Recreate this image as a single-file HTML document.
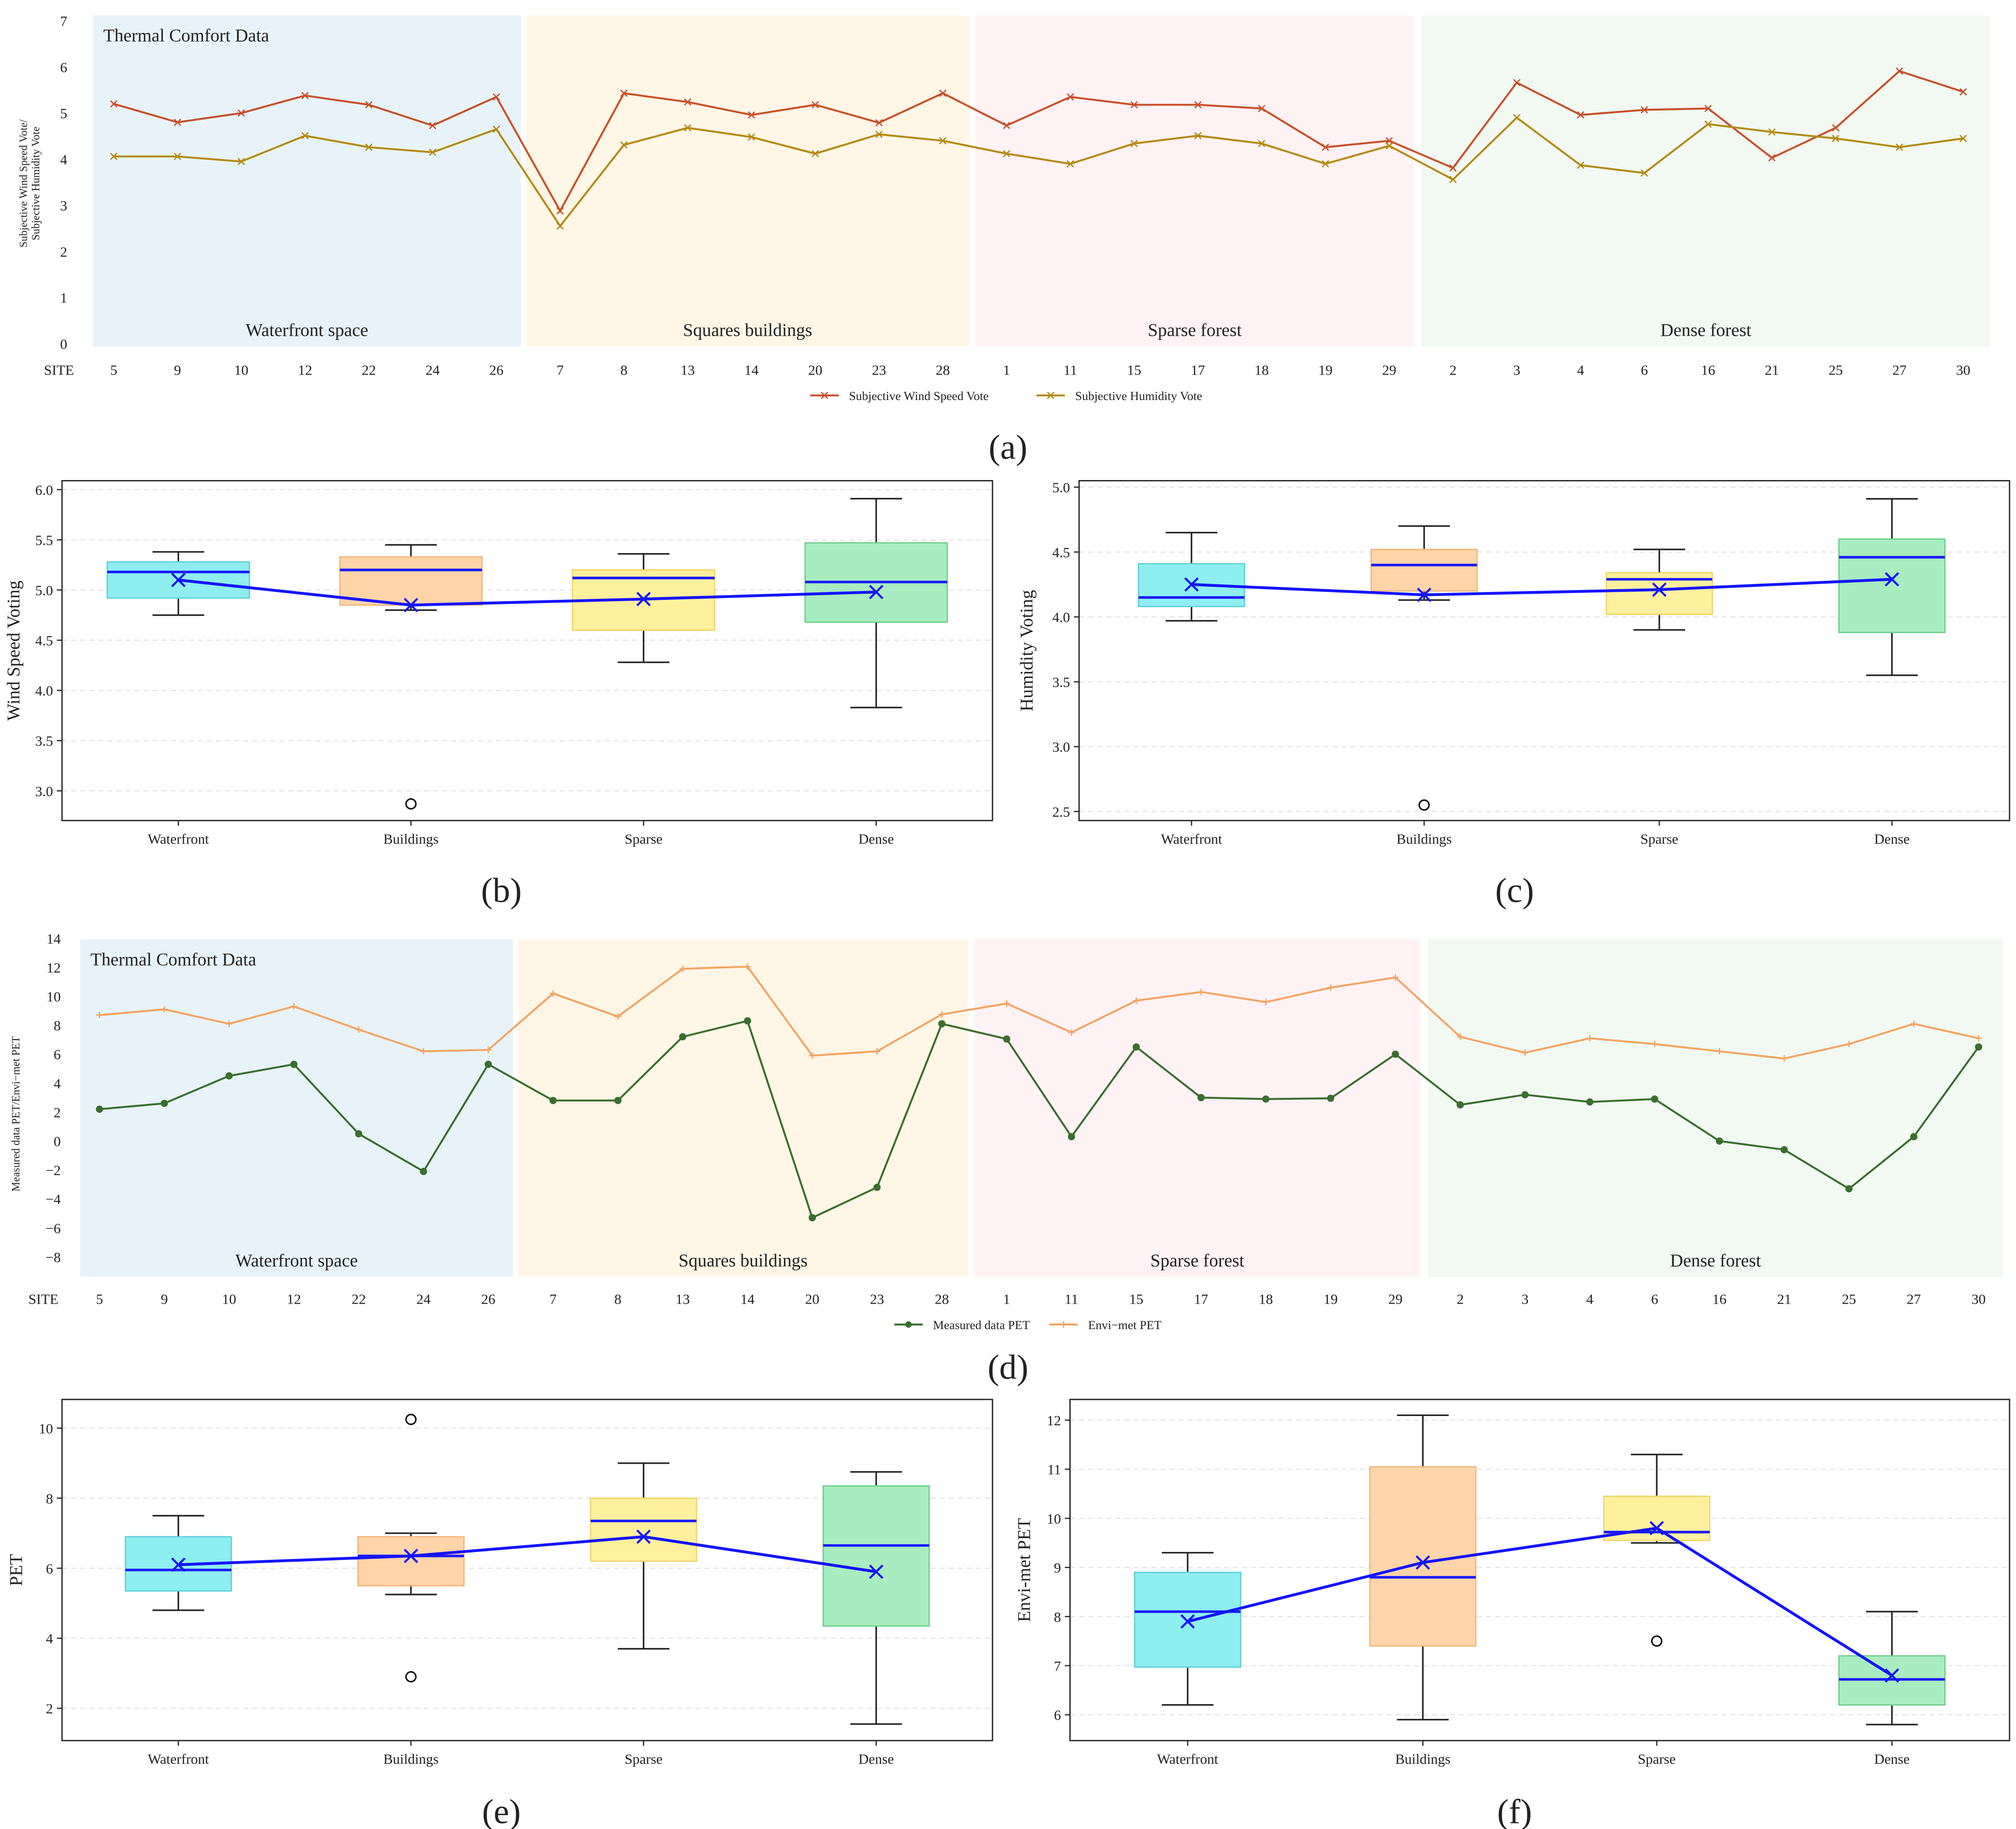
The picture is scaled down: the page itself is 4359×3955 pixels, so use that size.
<!DOCTYPE html>
<html><head><meta charset="utf-8"><style>
html,body{margin:0;padding:0;background:#fff}
svg{display:block}
text{font-family:"Liberation Serif",serif;fill:#222}
</style></head><body>
<svg id="c" width="4359" height="3955" viewBox="0 0 1560 1415.4" xmlns="http://www.w3.org/2000/svg"></svg>
<script>
const sites=[5,9,10,12,22,24,26,7,8,13,14,20,23,28,1,11,15,17,18,19,29,2,3,4,6,16,21,25,27,30];
const windVote=[5.2,4.8,5.0,5.38,5.18,4.73,5.35,2.88,5.43,5.24,4.96,5.18,4.79,5.43,4.73,5.35,5.18,5.18,5.1,4.26,4.4,3.81,5.66,4.96,5.07,5.1,4.03,4.68,5.91,5.46];
const humVote=[4.06,4.06,3.95,4.51,4.26,4.15,4.65,2.55,4.31,4.68,4.48,4.12,4.54,4.4,4.12,3.9,4.34,4.51,4.34,3.9,4.29,3.56,4.9,3.87,3.7,4.76,4.59,4.45,4.26,4.45];
const measPET=[2.2,2.6,4.5,5.3,0.5,-2.1,5.3,2.8,2.8,7.2,8.3,-5.3,-3.2,8.1,7.05,0.3,6.5,3.0,2.9,2.95,6.0,2.5,3.2,2.7,2.9,0,-0.6,-3.3,0.3,6.5];
const enviPET=[8.7,9.1,8.1,9.3,7.7,6.2,6.3,10.2,8.6,11.9,12.05,5.9,6.2,8.75,9.5,7.5,9.7,10.3,9.6,10.6,11.3,7.2,6.1,7.1,6.7,6.2,5.7,6.7,8.1,7.1];
const zones=["Waterfront space","Squares buildings","Sparse forest","Dense forest"];
const cats=["Waterfront","Buildings","Sparse","Dense"];
// box stats: [lowWhisker,q1,median,q3,highWhisker,mean]
const boxB=[[4.75,4.92,5.18,5.28,5.38,5.10],[4.8,4.85,5.2,5.33,5.45,4.85],[4.28,4.6,5.12,5.2,5.36,4.91],[3.83,4.68,5.08,5.47,5.91,4.98]];
const outB=[[1,2.87]];
const boxC=[[3.97,4.08,4.15,4.41,4.65,4.25],[4.13,4.2,4.40,4.52,4.70,4.17],[3.9,4.02,4.29,4.34,4.52,4.21],[3.55,3.88,4.46,4.6,4.91,4.29]];
const outC=[[1,2.55]];
const boxE=[[4.8,5.35,5.95,6.9,7.5,6.1],[5.25,5.5,6.35,6.9,7.0,6.35],[3.7,6.2,7.35,8.0,9.0,6.9],[1.55,4.35,6.65,8.35,8.75,5.9]];
const outE=[[1,10.25],[1,2.9]];
const boxF=[[6.2,6.97,8.1,8.9,9.3,7.9],[5.9,7.4,8.8,11.05,12.1,9.1],[9.5,9.55,9.72,10.45,11.3,9.8],[5.8,6.2,6.72,7.2,8.1,6.8]];
const outF=[[2,7.5]];
const ticksB=[3.0,3.5,4.0,4.5,5.0,5.5,6.0];
const ticksC=[2.5,3.0,3.5,4.0,4.5,5.0];
const ticksE=[2,4,6,8,10];
const ticksF=[6,7,8,9,10,11,12];

const svg=document.getElementById('c');
const NS="http://www.w3.org/2000/svg";
function el(tag,attrs,parent,txt){const e=document.createElementNS(NS,tag);for(const k in attrs)e.setAttribute(k,attrs[k]);if(txt!==undefined)e.textContent=txt;(parent||svg).appendChild(e);return e;}

function cross(g,x,y,s,col,w){el('path',{d:`M${x-s} ${y-s}L${x+s} ${y+s}M${x-s} ${y+s}L${x+s} ${y-s}`,stroke:col,'stroke-width':w,fill:'none'},g);}

function linePanel(cfg){
  const g=el('g',{});
  
  
  const yS=v=>cfg.y0-(v-cfg.vmin)*cfg.ppu;
  const xS=i=>cfg.x0+i*cfg.dx;
  const bandCols=['#e8f3f9','#fff6e6','#fff2f5','#f1f9f2'];
  cfg.bands.forEach((b,i)=>{
    const r=el('rect',{x:b[0],y:cfg.top,width:b[1]-b[0],height:cfg.bottom-cfg.top,fill:bandCols[i]},g);
    
    
    const t=el('text',{x:(b[0]+b[1])/2,y:cfg.bottom-8,'font-size':14,'text-anchor':'middle'},g,zones[i]);
    
    
  });
  el('text',{x:cfg.bands[0][0]+8,y:cfg.top+20,'font-size':14},g,'Thermal Comfort Data');
  cfg.ticks.forEach(v=>{el('text',{x:cfg.tickX,y:yS(v)+4,'font-size':11,'text-anchor':'end'},g,String(v).replace('-','\u2212'));});
  el('text',{x:cfg.siteX,y:cfg.siteY,'font-size':11},g,'SITE');
  sites.forEach((s,i)=>{el('text',{x:xS(i),y:cfg.siteY,'font-size':11,'text-anchor':'middle'},g,s);});
  cfg.series.forEach(sr=>{
    const pts=sr.vals.map((v,i)=>xS(i)+','+yS(v)).join(' ');
    const p=el('polyline',{points:pts,fill:'none',stroke:sr.col,'stroke-width':1.5},g);
    
    
    sr.vals.forEach((v,i)=>{
      if(sr.mark==='x')cross(g,xS(i),yS(v),2.5,sr.col,1);
      else if(sr.mark==='o')el('circle',{cx:xS(i),cy:yS(v),r:2.8,fill:sr.col},g);
      else el('path',{d:`M${xS(i)-2.5} ${yS(v)}h5M${xS(i)} ${yS(v)-2.5}v5`,stroke:sr.col,'stroke-width':1},g);
    });
  });
  // legend
  let lx=cfg.legX;
  cfg.series.forEach(sr=>{
    const lg=el('g',{},g);
    
    
    el('line',{x1:lx,y1:cfg.legY,x2:lx+22,y2:cfg.legY,stroke:sr.col,'stroke-width':1.5},lg);
    if(sr.mark==='o')el('circle',{cx:lx+11,cy:cfg.legY,r:2.5,fill:sr.col},lg);
    else if(sr.mark==='x')cross(lg,lx+11,cfg.legY,2.5,sr.col,1);
    else el('path',{d:`M${lx+8.5} ${cfg.legY}h5M${lx+11} ${cfg.legY-2.5}v5`,stroke:sr.col},lg);
    el('text',{x:lx+30,y:cfg.legY+3.5,'font-size':9.5},lg,sr.label);
    lx+=cfg.legGap;
  });
  const yt=el('text',{transform:`translate(${cfg.ytX},${cfg.ytY}) rotate(-90)`,'font-size':cfg.ytSize,'text-anchor':'middle'},g);
  cfg.ytitle.forEach((l,i)=>el('tspan',{x:0,dy:i?cfg.ytSize+1:0},yt,l));
}

linePanel({name:'panel-a',top:12,bottom:268,x0:88,dx:49.35,y0:266,vmin:0,ppu:35.7,
  bands:[[72,403],[407,750],[755,1094],[1100,1540]],ticks:[0,1,2,3,4,5,6,7],tickX:52,siteX:34,siteY:290,
  series:[{vals:windVote,col:'#c8502a',mark:'x',name:'wind-vote-line',label:'Subjective Wind Speed Vote'},{vals:humVote,col:'#b38a12',mark:'x',name:'humidity-vote-line',label:'Subjective Humidity Vote'}],
  legX:627,legY:306,legGap:175,ytitle:['Subjective Wind Speed Vote/','Subjective Humidity Vote'],ytX:21,ytY:142,ytSize:8.5});
linePanel({name:'panel-d',top:727,bottom:988,x0:77,dx:50.14,y0:883,vmin:0,ppu:11.2,
  bands:[[62,397],[401,749],[754,1099],[1105,1550]],ticks:[-8,-6,-4,-2,0,2,4,6,8,10,12,14],tickX:47,siteX:22,siteY:1009,
  series:[{vals:measPET,col:'#3a6e2e',mark:'o',name:'measured-pet-line',label:'Measured data PET'},{vals:enviPET,col:'#f4a464',mark:'+',name:'envimet-pet-line',label:'Envi\u2212met PET'}],
  legX:692,legY:1025,legGap:120,ytitle:['Measured data PET/Envi\u2212met PET'],ytX:15,ytY:862,ytSize:8.5});

function boxPanel(cfg){
  const g=el('g',{});
  
  
  const yS=v=>cfg.y0-(v-cfg.t0)*cfg.ppu;
  cfg.ticks.forEach(v=>{
    el('line',{x1:cfg.l,x2:cfg.r,y1:yS(v),y2:yS(v),stroke:'#e2e2e2','stroke-dasharray':'4 3','stroke-width':0.8},g);
    el('line',{x1:cfg.l-4,x2:cfg.l,y1:yS(v),y2:yS(v),stroke:'#333'},g);
    el('text',{x:cfg.l-7,y:yS(v)+4,'font-size':11,'text-anchor':'end'},g,cfg.fmt(v));
  });
  const face=['#8eeef0','#ffd4a8','#fff09e','#a8ecbf'];
  const edge=['#5fd0d8','#f2b47a','#f0d36a','#6cce8a'];
  const hw=cfg.bw/2;
  cfg.data.forEach((d,i)=>{
    const x=cfg.xs[i];
    const bg=el('g',{},g);
    
    
    el('line',{x1:x,x2:x,y1:yS(d[0]),y2:yS(d[1]),stroke:'#222','stroke-width':1.2},bg);
    el('line',{x1:x,x2:x,y1:yS(d[3]),y2:yS(d[4]),stroke:'#222','stroke-width':1.2},bg);
    el('line',{x1:x-20,x2:x+20,y1:yS(d[0]),y2:yS(d[0]),stroke:'#222','stroke-width':1.2},bg);
    el('line',{x1:x-20,x2:x+20,y1:yS(d[4]),y2:yS(d[4]),stroke:'#222','stroke-width':1.2},bg);
    el('rect',{x:x-hw,y:yS(d[3]),width:cfg.bw,height:yS(d[1])-yS(d[3]),fill:face[i],stroke:edge[i],'stroke-width':1},bg);
    el('line',{x1:x-hw,x2:x+hw,y1:yS(d[2]),y2:yS(d[2]),stroke:'#1a1aff','stroke-width':2},bg);
    el('text',{x:x,y:cfg.b+18,'font-size':11,'text-anchor':'middle'},g,cats[i]);
  });
  cfg.out.forEach(o=>{el('circle',{cx:cfg.xs[o[0]],cy:yS(o[1]),r:3.8,fill:'none',stroke:'#111','stroke-width':1.2},g);});
  const pts=cfg.data.map((d,i)=>cfg.xs[i]+','+yS(d[5])).join(' ');
  const ml=el('polyline',{points:pts,fill:'none',stroke:'#1414ff','stroke-width':2.2},g);
  
  
  cfg.data.forEach((d,i)=>cross(g,cfg.xs[i],yS(d[5]),5,'#1414ff',1.6));
  cfg.xs.forEach(x=>el('line',{x1:x,x2:x,y1:cfg.b,y2:cfg.b+4,stroke:'#333'},g));
  el('rect',{x:cfg.l,y:cfg.t,width:cfg.r-cfg.l,height:cfg.b-cfg.t,fill:'none',stroke:'#222','stroke-width':1},g);
  el('text',{transform:`translate(${cfg.ytX},${(cfg.t+cfg.b)/2}) rotate(-90)`,'font-size':14,'text-anchor':'middle'},g,cfg.ytitle);
}
const f1=v=>v.toFixed(1), f0=v=>String(v);
boxPanel({name:'panel-b',l:48,r:768,t:372,b:635,y0:612,t0:3.0,ppu:77.7,ticks:ticksB,fmt:f1,xs:[138,318,498,678],bw:110,data:boxB,out:outB,ytitle:'Wind Speed Voting',ytX:15});
boxPanel({name:'panel-c',l:835,r:1555,t:372,b:635,y0:628,t0:2.5,ppu:100.4,ticks:ticksC,fmt:f1,xs:[922,1102,1284,1464],bw:82,data:boxC,out:outC,ytitle:'Humidity Voting',ytX:799});
boxPanel({name:'panel-e',l:48,r:768,t:1083,b:1347,y0:1322,t0:2,ppu:27.1,ticks:ticksE,fmt:f0,xs:[138,318,498,678],bw:82,data:boxE,out:outE,ytitle:'PET',ytX:17});
boxPanel({name:'panel-f',l:828,r:1555,t:1083,b:1347,y0:1327,t0:6,ppu:38,ticks:ticksF,fmt:f0,xs:[919,1101,1282,1464],bw:82,data:boxF,out:outF,ytitle:'Envi-met PET',ytX:797});

[['(a)',780,355],['(b)',388,698],['(c)',1172,698],['(d)',780,1067],['(e)',388,1411],['(f)',1172,1411]].forEach(a=>{
  const t=el('text',{x:a[1],y:a[2],'font-size':27,'text-anchor':'middle'},svg,a[0]);
  
  
});
</script>
</body></html>
